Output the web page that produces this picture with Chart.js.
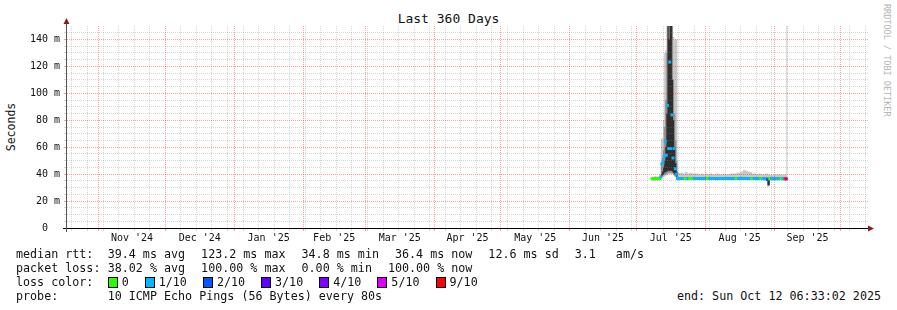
<!DOCTYPE html>
<html>
<head>
<meta charset="utf-8">
<title>Last 360 Days</title>
<script src="https://cdn.jsdelivr.net/npm/chart.js@4"></script>
<style>
  body { margin: 0; background: #fff; }
  #wrap { position: relative; width: 897px; height: 310px; overflow: hidden;
          font-family: "DejaVu Sans Mono", monospace; color: #111; }
  #chartBox { position: absolute; left: 0; top: 0; width: 897px; height: 250px; }
  #title { position: absolute; left: 0; top: 12px; width: 897px; text-align: center;
           font-size: 13px; line-height: 14px; }
  #ylabel { position: absolute; left: -39px; top: 120px; width: 100px; height: 14px;
            text-align: center; font-size: 11.5px; line-height: 14px; transform: rotate(-90deg); }
  #watermark { position: absolute; left: 0; top: 0; font-size: 8.5px; line-height: 10px;
               color: #b4b4b4; white-space: pre; transform-origin: 0 0;
               transform: translate(892px, 4px) rotate(90deg); }
  .row { position: absolute; left: 16px; height: 14px; display: flex; align-items: center;
         white-space: pre; font-size: 11.7px; line-height: 14px; }
  .lab { display: inline-block; width: 91.7px; }
  .it { margin-right: 16px; }
  .item { display: flex; align-items: center; margin-right: 16px; }
  .sw { display: inline-block; width: 8px; height: 9px; border: 1px solid #000; margin-right: 4px; }
  #endTxt { position: absolute; right: 16px; top: 289px; white-space: pre; font-size: 11.7px; line-height: 14px; }
</style>
</head>
<body>
<div id="wrap">
  <div id="title">Last 360 Days</div>
  <div id="ylabel">Seconds</div>
  <div id="watermark">RRDTOOL / TOBI OETIKER</div>
  <div id="chartBox"><canvas id="grafico"></canvas></div>
  <div class="row" style="top:247px"><span class="lab">median rtt:</span><span class="it">39.4 ms avg</span><span class="it">123.2 ms max</span><span class="it">34.8 ms min</span><span class="it">36.4 ms now</span><span class="it">12.6 ms sd</span><span class="it" style="margin-right:20px">3.1</span><span>am/s</span></div>
  <div class="row" style="top:261px"><span class="lab">packet loss:</span><span class="it">38.02 % avg</span><span class="it">100.00 % max</span><span class="it">0.00 % min</span><span class="it">100.00 % now</span></div>
  <div class="row" id="lossRow" style="top:275px"><span class="lab">loss color:</span></div>
  <div class="row" style="top:289px"><span class="lab">probe:</span><span>10 ICMP Echo Pings (56 Bytes) every 80s</span></div>
  <div id="endTxt">end: Sun Oct 12 06:33:02 2025</div>
</div>
<script>
// dias contados desde el 17 oct 2024 (inicio del eje)
const X_MIN = 0.75;
const X_MAX = 361.25;

const monthStarts = [15, 45, 76, 107, 135, 166, 196, 227, 257, 288, 319, 349];
const monthLabels = ["Nov '24", "Dec '24", "Jan '25", "Feb '25", "Mar '25", "Apr '25",
                     "May '25", "Jun '25", "Jul '25", "Aug '25", "Sep '25"];
const firstSunday = 3;

const lossLevels = [0, 1, 2, 3, 4, 5, 9];
const lossLabels = ["0", "1/10", "2/10", "3/10", "4/10", "5/10", "9/10"];
const lossColors = { 0: "#26ff00", 1: "#00b8ff", 2: "#0059ff", 3: "#5e00ff",
                     4: "#7e00ff", 5: "#dd00ff", 9: "#ff0000" };

const days = [
  264, 265, 266, 267,
  267.5, 268, 268.5, 269, 269.5, 270, 270.5, 271, 271.5, 272, 272.5, 273, 273.5, 274, 274.5, 275, 275.5,
  276, 277, 278, 279, 280, 281, 282, 283, 284, 285,
  286, 287, 288, 289, 290, 291, 292, 293, 294, 295,
  296, 297, 298, 299, 300, 301, 302, 303, 304, 305,
  306, 307, 308, 309, 310, 311, 312, 313, 314, 315,
  316, 317, 318, 319, 320, 321, 322, 323, 324,
  324.5, 325
];

const medianMs = [
  36.6, 36.5, 36.6, 36.6,
  36.8, 38.0, 47.7, 48.5, 53.0, 64.0, 54.0, 91.0, 59.0, 123.2, 59.0, 84.0, 52.0, 59.0, 44.0, 40.0, 36.8,
  36.7, 36.7, 36.8, 36.7, 36.6, 36.7, 36.7, 36.8, 36.7, 36.7,
  36.7, 36.6, 36.7, 36.7, 36.8, 36.7, 36.7, 36.6, 36.7, 36.7,
  36.7, 36.8, 36.7, 36.7, 36.6, 36.7, 36.7, 36.8, 36.9, 36.8,
  36.8, 36.7, 36.7, 36.6, 36.7, 36.7, 36.6, 36.7, 36.6, 36.6,
  36.0, 36.6, 36.6, 36.5, 36.6, 36.5, 36.6, 36.5, 36.5,
  36.4, null
];

const lossLevel = [
  0, 0, 0, 0,
  0, 1, 1, 1, 1, 1, 1, 1, 1, 1, 1, 1, 1, 1, 1, 1, 1,
  1, 1, 1, 0, 1, 0, 0, 1, 1, 1,
  1, 1, 1, 0, 1, 1, 1, 1, 1, 1,
  1, 1, 1, 1, 1, 1, 0, 1, 1, 1,
  1, 1, 1, 0, 1, 1, 1, 0, 1, 1,
  2, 0, 1, 1, 1, 1, 0, 1, 5,
  9, 9
];

const smokeOuterHi = [
  38, 38.5, 38, 38.5,
  39, 66, 67, 80, 130, 132, 150, 150, 150, 150, 150, 150, 142, 140, 140, 140, 41,
  41, 41, 40.5, 41.5, 40.5, 41, 40.5, 40.5, 40.5, 40,
  40.5, 40, 40.5, 40, 40.5, 40, 40, 40.5, 40, 40,
  40.5, 40, 40, 40.5, 40.5, 40.5, 41, 41, 42, 43,
  42.5, 42, 41.5, 40.5, 40.5, 40, 40.5, 40, 40, 40.5,
  40, 39.5, 39.5, 39.5, 40, 40, 39.5, 39.5, 39.5,
  150, 150
];
const smokeOuterLo = [
  35.5, 35.8, 35.8, 35.8,
  35.8, 36, 37, 38, 38, 39, 39, 40, 40, 40, 40, 40, 39, 38, 37.5, 37, 35.8,
  35.8, 35.8, 35.8, 35.8, 35.8, 35.8, 35.8, 35.8, 35.8, 35.8,
  35.8, 35.8, 35.8, 35.8, 35.8, 35.8, 35.8, 35.8, 35.8, 35.8,
  35.8, 35.8, 35.8, 35.8, 35.8, 35.8, 35.8, 35.8, 35.8, 35.8,
  35.8, 35.8, 35.8, 35.8, 35.8, 35.8, 35.8, 35.8, 35.8, 35.8,
  31, 35.8, 35.8, 35.8, 35.8, 35.8, 35.8, 35.8, 35.8,
  35.8, 35.8
];
const smokeMidHi = [
  37.5, 37.5, 37.5, 37.5,
  37.5, 48, 52, 58, 75, 95, 130, 150, 150, 150, 150, 150, 110, 85, 65, 50, 37.5,
  37.8, 37.8, 37.8, 37.8, 37.8, 37.8, 37.8, 37.8, 37.8, 37.8,
  37.8, 37.8, 37.8, 37.8, 37.8, 37.8, 37.8, 37.8, 37.8, 37.8,
  37.8, 37.8, 37.8, 37.8, 37.8, 37.8, 37.8, 37.8, 37.8, 37.8,
  37.8, 37.8, 37.8, 37.8, 37.8, 37.8, 37.8, 37.8, 37.8, 37.8,
  37.5, 37.8, 37.8, 37.8, 37.8, 37.8, 37.8, 37.8, 37.8,
  37.8, 37.8
];
const smokeMidLo = [
  36, 36, 36, 36,
  36, 37, 38, 39, 39.5, 40, 40, 41, 41, 41, 41, 40.5, 40, 39, 38, 37.5, 36,
  36, 36, 36, 36, 36, 36, 36, 36, 36, 36,
  36, 36, 36, 36, 36, 36, 36, 36, 36, 36,
  36, 36, 36, 36, 36, 36, 36, 36, 36, 36,
  36, 36, 36, 36, 36, 36, 36, 36, 36, 36,
  31, 36, 36, 36, 36, 36, 36, 36, 36,
  36, 36
];
const smokeInnerHi = [
  37.2, 37.2, 37.2, 37.2,
  37.2, 40, 42, 45, 50, 60, 85, 150, 140, 150, 150, 110, 80, 60, 48, 42, 37.2,
  37.2, 37.2, 37.2, 37.2, 37.2, 37.2, 37.2, 37.2, 37.2, 37.2,
  37.2, 37.2, 37.2, 37.2, 37.2, 37.2, 37.2, 37.2, 37.2, 37.2,
  37.2, 37.2, 37.2, 37.2, 37.2, 37.2, 37.2, 37.2, 37.2, 37.2,
  37.2, 37.2, 37.2, 37.2, 37.2, 37.2, 37.2, 37.2, 37.2, 37.2,
  37.2, 37.2, 37.2, 37.2, 37.2, 37.2, 37.2, 37.2, 37.2,
  37.2, 37.2
];
const smokeInnerLo = [
  36.2, 36.2, 36.2, 36.2,
  36.2, 37.5, 39, 40, 41, 41.5, 42, 42.5, 42.5, 42.5, 42.5, 42, 41, 40, 39, 38, 36.2,
  36.2, 36.2, 36.2, 36.2, 36.2, 36.2, 36.2, 36.2, 36.2, 36.2,
  36.2, 36.2, 36.2, 36.2, 36.2, 36.2, 36.2, 36.2, 36.2, 36.2,
  36.2, 36.2, 36.2, 36.2, 36.2, 36.2, 36.2, 36.2, 36.2, 36.2,
  36.2, 36.2, 36.2, 36.2, 36.2, 36.2, 36.2, 36.2, 36.2, 36.2,
  32, 36.2, 36.2, 36.2, 36.2, 36.2, 36.2, 36.2, 36.2,
  36.2, 36.2
];

const MAJOR = "rgba(255, 0, 0, 0.38)";
const MINOR = "rgba(128, 128, 128, 0.32)";
const FONT_EJE = { family: "DejaVu Sans Mono", size: 10 };

document.addEventListener("DOMContentLoaded", () => {
  pintarLeyenda();
  dibujarGrafico();
});

function pintarLeyenda() {
  const row = document.getElementById("lossRow");
  lossLevels.forEach((lv, i) => {
    const item = document.createElement("span");
    item.className = "item";
    item.innerHTML = `<span class="sw" style="background:${lossColors[lv]}"></span>${lossLabels[i]}`;
    row.appendChild(item);
  });
}

// ticks del eje x: semanas (gris), inicio de mes (rojo), mitad de mes (etiqueta)
function construirTicksX() {
  const porValor = new Map();
  for (let d = firstSunday; d < X_MAX; d += 7) porValor.set(d, { value: d, kind: "minor", label: "" });
  monthStarts.forEach(d => porValor.set(d, { value: d, kind: "major", label: "" }));
  monthLabels.forEach((lab, i) => {
    const mid = (monthStarts[i] + monthStarts[i + 1]) / 2;
    porValor.set(mid, { value: mid, kind: "label", label: lab });
  });
  return [...porValor.values()].sort((a, b) => a.value - b.value);
}

function capaHumo(valores, color, relleno) {
  return {
    data: days.map((d, i) => ({ x: d, y: valores[i] })),
    stepped: true,
    borderWidth: 0,
    borderColor: "transparent",
    pointRadius: 0,
    pointHoverRadius: 0,
    backgroundColor: color,
    fill: relleno ? "+1" : false
  };
}

const ejesYFlechas = {
  id: "ejesYFlechas",
  afterDraw(chart) {
    const { ctx, chartArea: a } = chart;
    ctx.save();
    ctx.lineWidth = 1;
    ctx.strokeStyle = "#000";
    ctx.beginPath();
    ctx.moveTo(a.left - 4, a.bottom + 0.5);
    ctx.lineTo(a.right + 1, a.bottom + 0.5);
    ctx.stroke();
    ctx.strokeStyle = "#555";
    ctx.beginPath();
    ctx.moveTo(a.left - 0.5, a.bottom + 4);
    ctx.lineTo(a.left - 0.5, a.top - 3);
    ctx.stroke();
    ctx.fillStyle = "#8b1c1c";
    ctx.beginPath();
    ctx.moveTo(a.left - 0.5, a.top - 8);
    ctx.lineTo(a.left - 3.5, a.top - 2);
    ctx.lineTo(a.left + 2.5, a.top - 2);
    ctx.closePath();
    ctx.fill();
    ctx.beginPath();
    ctx.moveTo(a.right + 6, a.bottom + 0.5);
    ctx.lineTo(a.right, a.bottom - 2.5);
    ctx.lineTo(a.right, a.bottom + 3.5);
    ctx.closePath();
    ctx.fill();
    ctx.restore();
  }
};

function dibujarGrafico() {
  const xTicks = construirTicksX();
  const ctx = document.getElementById("grafico").getContext("2d");

  new Chart(ctx, {
    type: "line",
    data: {
      datasets: [
        {
          data: days.map((d, i) => ({ x: d, y: medianMs[i] })),
          showLine: false,
          pointStyle: "rect",
          pointRadius: 2.1,
          pointHoverRadius: 2.1,
          pointBorderWidth: 0,
          pointBackgroundColor: c => lossColors[lossLevel[c.dataIndex]]
        },
        capaHumo(smokeInnerHi, "#2e2e2e", true),
        capaHumo(smokeInnerLo, "#2e2e2e", false),
        capaHumo(smokeMidHi, "#8e8e8e", true),
        capaHumo(smokeMidLo, "#8e8e8e", false),
        capaHumo(smokeOuterHi, "#c8c8c8", true),
        capaHumo(smokeOuterLo, "#c8c8c8", false)
      ]
    },
    options: {
      responsive: true,
      maintainAspectRatio: false,
      animation: false,
      devicePixelRatio: 1,
      events: [],
      layout: { padding: { left: 7, right: 29, top: 26, bottom: 0 } },
      plugins: {
        legend: { display: false },
        tooltip: { enabled: false },
        title: { display: false }
      },
      scales: {
        x: {
          type: "linear",
          min: X_MIN,
          max: X_MAX,
          afterBuildTicks: s => { s.ticks = xTicks.map(t => ({ value: t.value })); },
          afterFit: s => { s.height = 22; },
          ticks: {
            autoSkip: false,
            minRotation: 0,
            maxRotation: 0,
            padding: 1,
            color: "#111",
            font: FONT_EJE,
            callback: (v, i) => xTicks[i] ? xTicks[i].label : ""
          },
          grid: {
            z: 1,
            lineWidth: 1,
            tickLength: 3,
            color: c => {
              const t = xTicks[c.index];
              if (!t || t.kind === "label") return "transparent";
              return t.kind === "major" ? MAJOR : MINOR;
            }
          },
          border: { display: false, dash: [1, 1] }
        },
        y: {
          min: 0,
          max: 150,
          afterFit: s => { s.width = 60; },
          ticks: {
            stepSize: 5,
            autoSkip: false,
            padding: 4,
            color: "#111",
            font: FONT_EJE,
            callback: v => v === 0 ? "0  " : (v % 20 === 0 ? v + " m" : "")
          },
          grid: {
            z: 1,
            lineWidth: 1,
            tickLength: 3,
            color: c => {
              const v = c.tick.value;
              if (v === 0 || v === 150) return "transparent";
              return v % 20 === 0 ? MAJOR : MINOR;
            }
          },
          border: { display: false, dash: [1, 1] }
        }
      }
    },
    plugins: [ejesYFlechas]
  });
}
</script>
</body>
</html>
